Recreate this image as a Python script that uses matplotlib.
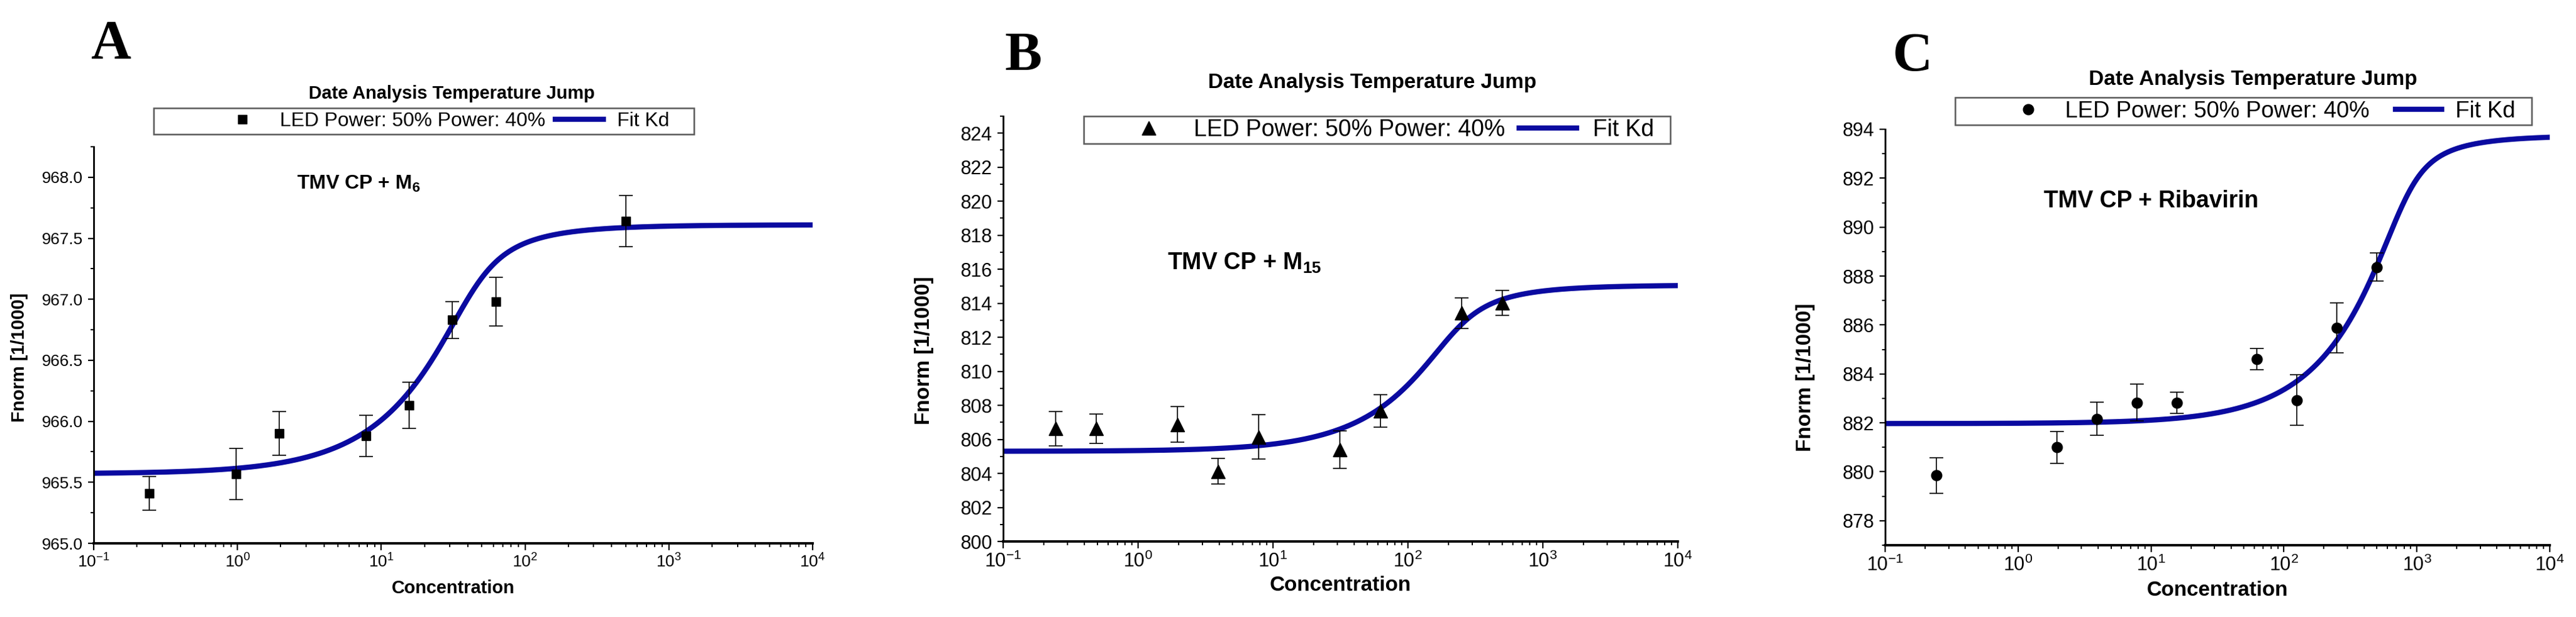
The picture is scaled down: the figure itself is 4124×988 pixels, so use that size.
import numpy as np
import matplotlib
matplotlib.use("Agg")
import matplotlib.pyplot as plt
from matplotlib.lines import Line2D
from matplotlib.patches import Rectangle
from matplotlib.ticker import MultipleLocator, LogLocator, NullFormatter, FormatStrFormatter

plt.rcParams['font.family'] = ['Liberation Sans', 'DejaVu Sans']
plt.rcParams['mathtext.fontset'] = 'custom'
plt.rcParams['mathtext.rm'] = 'Liberation Sans'
plt.rcParams['mathtext.bf'] = 'Liberation Sans:bold'
plt.rcParams['mathtext.default'] = 'regular'

# panel A: TMV CP + M6
conc_a = [0.244, 0.977, 1.95, 7.81, 15.6, 31.25, 62.5, 500]
fnorm_a = [965.41, 965.57, 965.90, 965.88, 966.13, 966.83, 966.98, 967.64]
err_a = [0.14, 0.21, 0.18, 0.17, 0.19, 0.15, 0.20, 0.21]

# panel B: TMV CP + M15
conc_b = [0.244, 0.488, 1.95, 3.91, 7.81, 31.25, 62.5, 250, 500]
fnorm_b = [806.63, 806.63, 806.88, 804.12, 806.14, 805.39, 807.67, 813.43, 814.02]
err_b = [1.00, 0.85, 1.05, 0.75, 1.30, 1.10, 0.97, 0.90, 0.73]

# panel C: TMV CP + Ribavirin
conc_c = [0.244, 1.95, 3.91, 7.81, 15.6, 62.5, 125, 250, 500]
fnorm_c = [879.85, 881.00, 882.16, 882.83, 882.82, 884.60, 882.93, 885.89, 888.37]
err_c = [0.72, 0.65, 0.68, 0.75, 0.44, 0.44, 1.03, 1.02, 0.58]

# Kd fit parameters: unbound, bound, Kd, target concentration
fit_a = (965.57, 967.61, 5.0, 40.0)
fit_b = (805.30, 815.07, 30.0, 200.0)
fit_c = (881.97, 893.75, 60.0, 780.0)

W, H = 4124, 988
BLUE = '#0a0aa0'


def kd_curve(c, unbound, bound, kd, ct):
    s = c + ct + kd
    frac = (s - np.sqrt(s ** 2 - 4 * c * ct)) / (2 * ct)
    return unbound + (bound - unbound) * frac


def px_rect(l, t, r, b):
    return [l / W, 1 - b / H, (r - l) / W, (b - t) / H]


panels = [
    dict(letter='A', letter_xy=(145, 93), axes=(150, 235, 1301, 870),
         x=conc_a, y=fnorm_a, err=err_a, fit=fit_a, marker='s', ms=10,
         ylim=(965.0, 968.25), major=0.5, fmt='%.1f',
         note='TMV CP + M$_6$', note_xy=(0.282, 0.893), note_fs=23,
         title_xy=(0.498, 1.134), title_fs=21,
         leg_box=(246, 173, 1111, 215), leg_anchor=(1072, 194), leg_fs=23,
         hl=2.4, htp=0.7, cs=0.5, tick_fs=19, lab_fs=21,
         ylab_x=-0.103, ylab_y=0.469, xlab_y=-0.113),
    dict(letter='B', letter_xy=(1609, 112), axes=(1606, 186, 2686, 867),
         x=conc_b, y=fnorm_b, err=err_b, fit=fit_b, marker='^', ms=16,
         ylim=(800, 825), major=2, fmt='%d',
         note='TMV CP + M$_{15}$', note_xy=(0.2435, 0.639), note_fs=27,
         title_xy=(0.547, 1.079), title_fs=24,
         leg_box=(1735, 186, 2674, 230), leg_anchor=(2648, 208), leg_fs=27,
         hl=2.45, htp=0.7, cs=0.6, tick_fs=22, lab_fs=24,
         ylab_x=-0.117, ylab_y=0.449, xlab_y=-0.104),
    dict(letter='C', letter_xy=(3030, 113), axes=(3018, 207, 4082, 873),
         x=conc_c, y=fnorm_c, err=err_c, fit=fit_c, marker='o', ms=12,
         ylim=(877, 894), major=2, fmt='%d',
         note='TMV CP + Ribavirin', note_xy=(0.239, 0.812), note_fs=27,
         title_xy=(0.553, 1.12), title_fs=24,
         leg_box=(3130, 156, 4053, 200), leg_anchor=(4027, 178), leg_fs=26.5,
         hl=2.0, htp=0.6, cs=1.15, tick_fs=22, lab_fs=24,
         ylab_x=-0.12, ylab_y=0.403, xlab_y=-0.109),
]

fig = plt.figure(figsize=(W / 100, H / 100), dpi=100)
xs = np.logspace(-1, 4, 600)

for p in panels:
    ax = fig.add_axes(px_rect(*p['axes']))
    ax.errorbar(p['x'], p['y'], yerr=p['err'], fmt=p['marker'], color='black',
                ms=p['ms'], ecolor='black', elinewidth=1.2, capsize=8,
                capthick=1.2, zorder=3)
    ax.plot(xs, kd_curve(xs, *p['fit']), color=BLUE, lw=6, zorder=2)

    ax.set_xscale('log')
    ax.set_xlim(0.1, 1e4)
    ax.set_ylim(*p['ylim'])
    ax.xaxis.set_major_locator(LogLocator(base=10, numticks=10))
    ax.xaxis.set_minor_locator(LogLocator(base=10, subs=np.arange(2, 10), numticks=10))
    ax.xaxis.set_minor_formatter(NullFormatter())
    ax.yaxis.set_major_locator(MultipleLocator(p['major']))
    ax.yaxis.set_minor_locator(MultipleLocator(p['major'] / 2))
    ax.yaxis.set_major_formatter(FormatStrFormatter(p['fmt']))

    for side in ('top', 'right'):
        ax.spines[side].set_visible(False)
    ax.spines['left'].set_linewidth(2)
    ax.spines['bottom'].set_linewidth(2.8)
    ax.tick_params(axis='x', which='major', direction='out', length=8, width=1.6,
                   labelsize=p['tick_fs'], pad=4)
    ax.tick_params(axis='x', which='minor', direction='out', length=4, width=1.4)
    ax.tick_params(axis='y', which='major', direction='out', length=6.5, width=1.6,
                   labelsize=p['tick_fs'], pad=6)
    ax.tick_params(axis='y', which='minor', direction='out', length=3.5, width=1.4)

    ax.set_xlabel('Concentration', fontsize=p['lab_fs'], fontweight='bold')
    ax.xaxis.set_label_coords(0.5, p['xlab_y'])
    ax.xaxis.label.set_va('center')
    ax.set_ylabel('Fnorm [1/1000]', fontsize=p['lab_fs'], fontweight='bold')
    ax.yaxis.set_label_coords(p['ylab_x'], p['ylab_y'])
    ax.yaxis.label.set_va('center')

    ax.set_title('Date Analysis Temperature Jump', fontsize=p['title_fs'],
                 fontweight='bold', x=p['title_xy'][0], y=p['title_xy'][1],
                 pad=0, va='center')
    ax.text(p['note_xy'][0], p['note_xy'][1], p['note'], transform=ax.transAxes,
            fontsize=p['note_fs'], fontweight='bold', va='baseline', ha='left')

    # legend frame and entries
    l, t, r, b = p['leg_box']
    fig.patches.append(Rectangle((l / W, 1 - b / H), (r - l) / W, (b - t) / H,
                                 transform=fig.transFigure, facecolor='white',
                                 edgecolor='#5a5a5a', lw=1.8, zorder=4))
    handles = [Line2D([], [], ls='none', marker=p['marker'], ms=p['ms'], color='black'),
               Line2D([], [], color=BLUE, lw=6)]
    leg = fig.legend(handles, ['LED Power: 50% Power: 40%', 'Fit Kd'], ncol=2,
                     loc='center right',
                     bbox_to_anchor=(p['leg_anchor'][0] / W, 1 - p['leg_anchor'][1] / H),
                     frameon=False, fontsize=p['leg_fs'], borderpad=0,
                     borderaxespad=0, handlelength=p['hl'], handletextpad=p['htp'],
                     columnspacing=p['cs'])
    leg.set_zorder(5)

    fig.text(p['letter_xy'][0] / W, 1 - p['letter_xy'][1] / H, p['letter'],
             fontsize=64, fontweight='bold', family=['Liberation Serif', 'DejaVu Serif'],
             ha='left', va='baseline')

fig.savefig('out.png', dpi=100, facecolor='white')
